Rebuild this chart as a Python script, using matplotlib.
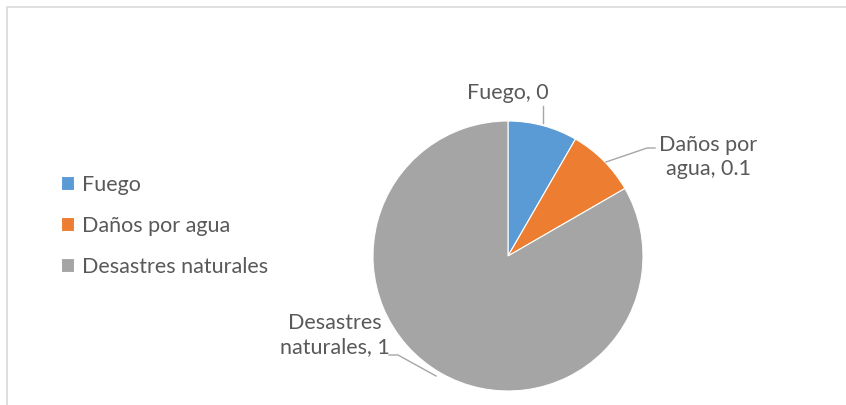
import matplotlib
matplotlib.use("Agg")
import matplotlib.pyplot as plt
from matplotlib.patches import Rectangle

categories = ["Fuego", "Daños por agua", "Desastres naturales"]
values = [0.1, 0.1, 1.0]
value_labels = ["Fuego, 0", "Daños por\nagua, 0.1", "Desastres\nnaturales, 1"]
colors = ["#5B9BD5", "#ED7D31", "#A5A5A5"]

W, H = 846, 405
plt.rcParams["font.family"] = ["Lato", "DejaVu Sans"]
text_color = "#595959"
fs = 15.5

fig = plt.figure(figsize=(W / 100, H / 100), dpi=100)
ax = fig.add_axes([0, 0, 1, 1])

# chart frame
ax.add_patch(Rectangle((7, -20), W + 20, H - 7 + 20, fill=False,
                       edgecolor="#D9D9D9", linewidth=1.2))

cx, cy, r = 508, H - 256, 135
wedges, _ = ax.pie(values, colors=colors, startangle=90, counterclock=False,
                   center=(cx, cy), radius=r, frame=True,
                   wedgeprops=dict(linewidth=0.8, edgecolor="white"))
ax.set_xlim(0, W)
ax.set_ylim(0, H)
ax.set_aspect("equal")
ax.axis("off")

# data labels with leader lines
lc = "#A6A6A6"
ax.text(508, H - 93, value_labels[0], ha="center", va="center",
        fontsize=fs, color=text_color)
ax.plot([543, 543], [H - 106, H - 123], color=lc, lw=1)

ax.text(708, H - 157, value_labels[1], ha="center", va="center",
        fontsize=fs, color=text_color, linespacing=1.2)
ax.plot([655, 647, 606], [H - 148, H - 148, H - 162], color=lc, lw=1)

ax.text(335, H - 335, value_labels[2], ha="center", va="center",
        fontsize=fs, color=text_color, linespacing=1.2)
ax.plot([389, 398, 436], [H - 355, H - 355, H - 376], color=lc, lw=1)

leg = ax.legend(wedges, categories, loc="upper left",
                bbox_to_anchor=(52 / W, 1 - 166 / H), frameon=False,
                fontsize=fs, labelcolor=text_color, handlelength=0.6,
                handleheight=0.6, handletextpad=0.4, labelspacing=0.98,
                borderaxespad=0)

fig.savefig("out.png", dpi=100)
